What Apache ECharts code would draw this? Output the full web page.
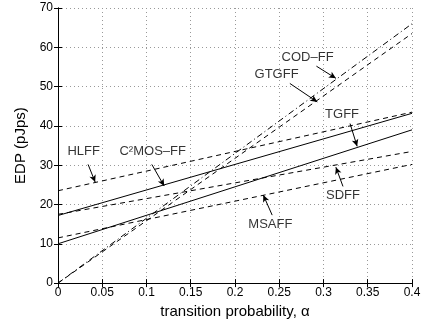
<!DOCTYPE html>
<html>
<head>
<meta charset="utf-8">
<script src="https://cdn.jsdelivr.net/npm/echarts@6/dist/echarts.min.js"></script>
<style>
  html, body { margin: 0; padding: 0; background: #fff; }
  #main { width: 432px; height: 324px; }
</style>
</head>
<body>
<div id="main"></div>
<script>
// alpha values at the two ends of every line
var alpha = [0, 0.4];

// EDP (pJps) at alpha = 0 and alpha = 0.4
var hlff = [23.5, 43.5];
var c2mos = [17.2, 43.2];
var tgff = [10, 39];
var sdff = [17.5, 33.5];
var msaff = [11.5, 30.2];
var codff = [0, 66];
var gtgff = [0, 63.5];

// annotation: name, text position, arrow start, arrow tip
var notes = [
    ['HLFF', [0.029, 33.4], [0.034, 30.2], [0.042, 25.7]],
    ['C\u00b2MOS\u2013FF', [0.107, 33.4], [0.106, 30.2], [0.120, 24.7]],
    ['COD\u2013FF', [0.282, 57.4], [0.292, 55.2], [0.314, 52.1]],
    ['GTGFF', [0.247, 53.1], [0.262, 50.8], [0.293, 46.1]],
    ['TGFF', [0.321, 43.0], [0.330, 40.6], [0.338, 34.8]],
    ['SDFF', [0.322, 22.2], [0.322, 24.6], [0.314, 29.5]],
    ['MSAFF', [0.240, 14.9], [0.242, 17.3], [0.232, 22.4]]
];

function pairs(ys) {
    return alpha.map(function (a, i) { return [a, ys[i]]; });
}

var font = 'Liberation Sans, Arial, Helvetica, sans-serif';
var dashed = [5, 4];
var dashDot = [6, 3, 1, 3];

function lineSeries(name, ys, type) {
    return {
        name: name,
        type: 'line',
        data: pairs(ys),
        showSymbol: false,
        silent: true,
        animation: false,
        lineStyle: { color: '#000', width: 1, type: type }
    };
}

var myChart = echarts.init(document.getElementById('main'));

var option = {
    backgroundColor: '#fff',
    animation: false,
    grid: { left: 58, right: 20, top: 8, bottom: 37 },
    xAxis: [{
        type: 'value',
        min: 0,
        max: 0.4,
        interval: 0.05,
        name: 'transition probability, \u03b1',
        nameLocation: 'middle',
        nameGap: 15,
        nameTextStyle: { fontFamily: font, fontSize: 15, color: '#000' },
        axisLine: { show: true, lineStyle: { color: '#000', width: 1 } },
        axisTick: { show: true, inside: true, length: 4, lineStyle: { color: '#000' } },
        axisLabel: { fontFamily: font, fontSize: 12, color: '#000', margin: 4 },
        splitLine: { show: true, lineStyle: { color: '#999', type: [1, 3], width: 1 } }
    }, {
        type: 'value',
        position: 'top',
        min: 0,
        max: 0.4,
        interval: 0.05,
        axisLine: { show: true, lineStyle: { color: '#000', width: 1 } },
        axisTick: { show: true, inside: true, length: 4, lineStyle: { color: '#000' } },
        axisLabel: { show: false },
        splitLine: { show: false }
    }],
    yAxis: [{
        type: 'value',
        min: 0,
        max: 70,
        interval: 10,
        name: 'EDP (pJps)',
        nameLocation: 'middle',
        nameGap: 22,
        nameTextStyle: { fontFamily: font, fontSize: 15, color: '#000' },
        axisLine: { show: true, lineStyle: { color: '#000', width: 1 } },
        axisTick: { show: true, inside: true, length: 4, lineStyle: { color: '#000' } },
        axisLabel: { fontFamily: font, fontSize: 12, color: '#000', margin: 5 },
        splitLine: { show: true, lineStyle: { color: '#999', type: [1, 3], width: 1 } }
    }, {
        type: 'value',
        position: 'right',
        min: 0,
        max: 70,
        interval: 10,
        axisLine: { show: true, lineStyle: { color: '#000', width: 1 } },
        axisTick: { show: true, inside: true, length: 4, lineStyle: { color: '#000' } },
        axisLabel: { show: false },
        splitLine: { show: false }
    }],
    series: [
        lineSeries('HLFF', hlff, dashed),
        lineSeries('C2MOS-FF', c2mos, 'solid'),
        lineSeries('TGFF', tgff, 'solid'),
        lineSeries('SDFF', sdff, dashed),
        lineSeries('MSAFF', msaff, dashed),
        lineSeries('COD-FF', codff, dashDot),
        lineSeries('GTGFF', gtgff, dashed),
        {
            // annotation texts and arrows
            type: 'scatter',
            silent: true,
            symbolSize: 0,
            data: notes.map(function (n) { return { value: n[1], name: n[0] }; }),
            label: {
                show: true,
                position: 'inside',
                formatter: function (p) { return p.name; },
                fontFamily: font,
                fontSize: 13,
                color: '#000'
            },
            markLine: {
                silent: true,
                symbol: ['none', 'arrow'],
                symbolSize: [5, 7],
                label: { show: false },
                lineStyle: { color: '#000', width: 1, type: 'solid' },
                data: notes.map(function (n) {
                    return [{ coord: n[2] }, { coord: n[3] }];
                })
            }
        }
    ]
};

myChart.setOption(option);
</script>
</body>
</html>
